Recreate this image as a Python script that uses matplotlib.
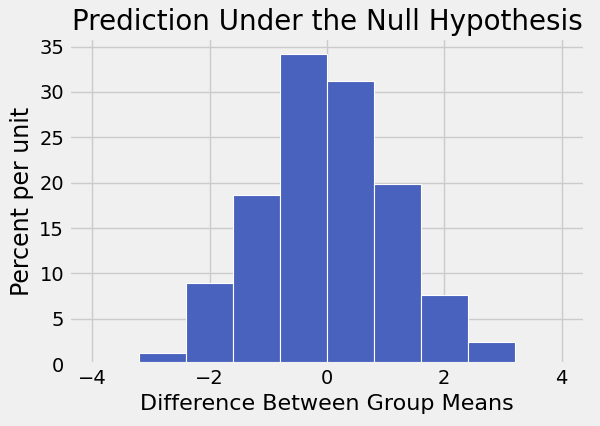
import matplotlib
matplotlib.use('Agg')
import matplotlib.pyplot as plt
import numpy as np

bin_edges = [-4.0, -3.2, -2.4, -1.6, -0.8, 0.0, 0.8, 1.6, 2.4, 3.2, 4.0]
percent_per_unit = [0.0, 1.2, 9.0, 18.7, 34.2, 31.2, 19.9, 7.6, 2.4, 0.0]

plt.style.use('fivethirtyeight')
fig, ax = plt.subplots(figsize=(6, 4.26), dpi=100)
fig.patch.set_facecolor('#f0f0f0')
edges = np.array(bin_edges)
ax.hist(edges[:-1], bins=edges, weights=percent_per_unit, color='#4862bd',
        edgecolor='white', linewidth=0.8, alpha=1.0)
ax.set_xlim(-4.4, 4.4)
ax.set_xticks([-4, -2, 0, 2, 4])
ax.set_yticks(range(0, 36, 5))
ax.set_title('Prediction Under the Null Hypothesis', fontsize=20)
ax.set_xlabel('Difference Between Group Means', fontsize=16)
ax.set_ylabel('Percent per unit', fontsize=17)
fig.subplots_adjust(left=0.115, right=0.975, top=0.91, bottom=0.145)
fig.savefig('out.png', dpi=100, facecolor=fig.get_facecolor())
